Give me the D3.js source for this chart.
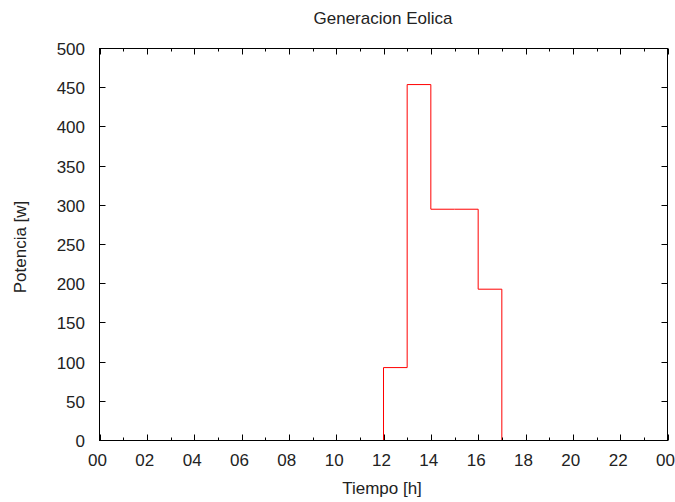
<!DOCTYPE html>
<html><head><meta charset="utf-8">
<script src="https://cdn.jsdelivr.net/npm/d3@7"></script>
<style>body{margin:0;background:#fff}svg{display:block}text{font-family:"Liberation Sans",Arial,sans-serif;fill:#222}</style>
</head><body>
<script>
// Data: hourly step values (value holds from hour to hour+1)
const hours  = [0,1,2,3,4,5,6,7,8,9,10,11,12,13,14,15,16,17,18,19,20,21,22,23,24];
const power  = [0,0,0,0,0,0,0,0,0,0,0,0,93,454,295,295,193,0,0,0,0,0,0,0,0];
const xTickValues = [0,2,4,6,8,10,12,14,16,18,20,22,24];
const xTickLabels = ["00","02","04","06","08","10","12","14","16","18","20","22","00"];
const yTickValues = [0,50,100,150,200,250,300,350,400,450,500];
const title = "Generacion Eolica", xTitle = "Tiempo [h]", yTitle = "Potencia [w]";

const W=675,H=502, L=99.5, R=667.5, T=48.5, B=440.5, FS=17;
const svg=d3.select("body").append("svg").attr("width",W).attr("height",H);
const x=d3.scaleLinear().domain([0,24]).range([L,R]);
const y=d3.scaleLinear().domain([0,500]).range([B,T]);

const data=hours.map((h,i)=>({h,v:power[i]}));
svg.append("path").datum(data)
  .attr("d",d3.line().x(d=>x(d.h)).y(d=>y(d.v)).curve(d3.curveStepAfter))
  .attr("fill","none").attr("stroke","#ff0000").attr("stroke-width",1);

const g=svg.append("g");
d3.range(0,25,1).forEach(h=>{
  const len = h%2===0?6:3;
  const px=Math.round(x(h))+0.5;
  g.append("line").attr("x1",px).attr("x2",px).attr("y1",B).attr("y2",B-len).attr("stroke","#000");
  g.append("line").attr("x1",px).attr("x2",px).attr("y1",T).attr("y2",T+len).attr("stroke","#000");
});
yTickValues.forEach(v=>{
  const py=Math.round(y(v)-0.5)+0.5;
  g.append("line").attr("x1",L).attr("x2",L+6).attr("y1",py).attr("y2",py).attr("stroke","#000");
  g.append("line").attr("x1",R).attr("x2",R-6).attr("y1",py).attr("y2",py).attr("stroke","#000");
  svg.append("text").attr("x",85).attr("y",py+6).attr("text-anchor","end").attr("font-size",FS).text(v);
});
xTickValues.forEach((v,i)=>{
  svg.append("text").attr("x",x(v)-2).attr("y",466).attr("text-anchor","middle").attr("font-size",FS).text(xTickLabels[i]);
});
g.append("rect").attr("x",L).attr("y",T).attr("width",R-L).attr("height",B-T).attr("fill","none").attr("stroke","#000");

svg.append("text").attr("x",383).attr("y",23.5).attr("text-anchor","middle").attr("font-size",FS).text(title);
svg.append("text").attr("x",382).attr("y",494).attr("text-anchor","middle").attr("font-size",FS).text(xTitle);
svg.append("text").attr("transform","translate(26,247) rotate(-90)").attr("text-anchor","middle").attr("font-size",FS).text(yTitle);
</script>
</body></html>
